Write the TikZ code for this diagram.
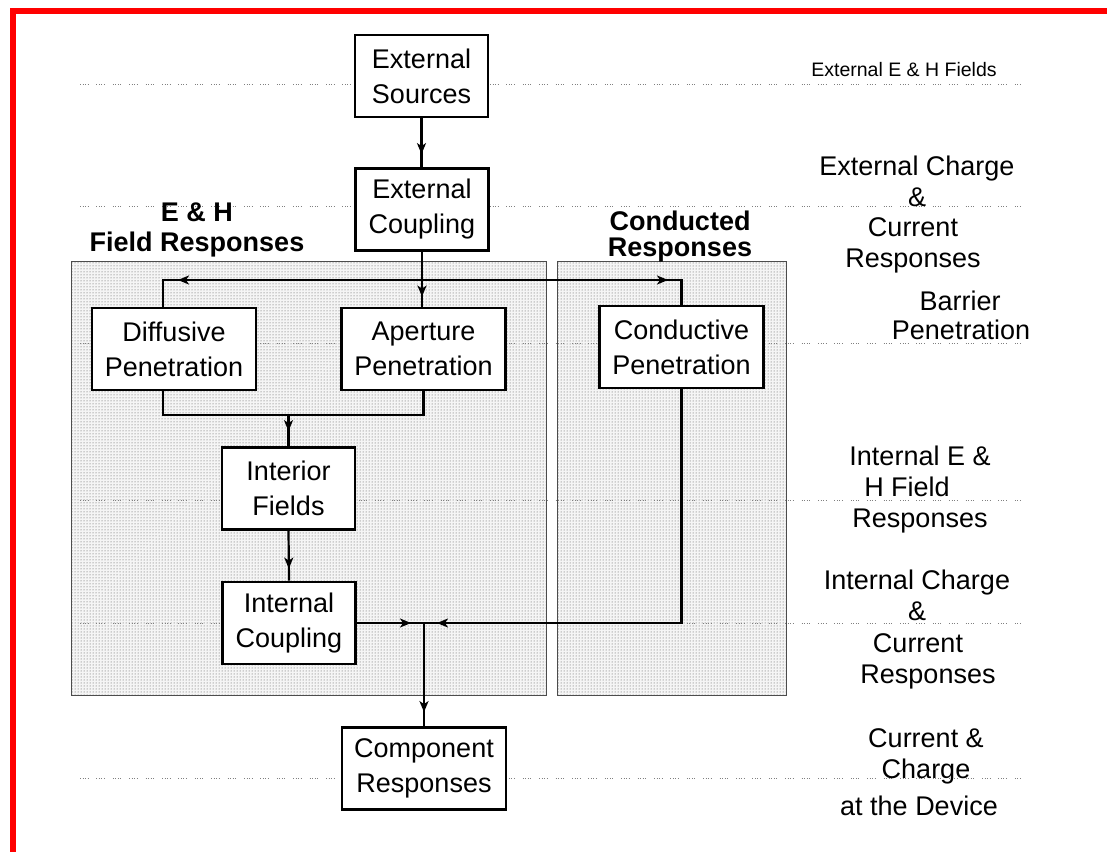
\documentclass[tikz,border=0pt]{standalone}
\usepackage{fontspec}
\setmainfont{Liberation Sans}
\usetikzlibrary{arrows.meta,decorations.markings,patterns,calc}
\begin{document}
\begin{tikzpicture}[x=1pt,y=-1pt,
  box/.style={draw=black, line width=2.8pt, fill=white, minimum height=82pt, inner sep=0pt, align=center, font=\fontsize{27}{35}\selectfont},
  sbox/.style={box, minimum width=133pt},
  wbox/.style={box, minimum width=164pt},
  panel/.style={draw=black!70, line width=0.8pt, fill=black!4, postaction={pattern=dots, pattern color=black!70}},
  guide/.style={draw=black!50, line width=0.9pt, dash pattern=on 0.9pt off 1.6pt on 0.9pt off 1.6pt on 0.9pt off 1.6pt on 0.9pt off 8pt},
  lab/.style={font=\fontsize{27}{31}\selectfont, anchor=base, inner sep=0pt},
  slab/.style={font=\fontsize{19.5}{22}\selectfont, anchor=base, inner sep=0pt},
  plab/.style={font=\bfseries\fontsize{27}{28}\selectfont, anchor=base, inner sep=0pt},
  conn/.style={line width=2.2pt},
  arrowat/.style={postaction={decorate}, decoration={markings, mark=at position #1 with {\arrow{Stealth[length=11pt,width=9pt,inset=3pt]}}}},
]
\fill[white] (0,0) rectangle (1107,851);
\useasboundingbox (0,0) rectangle (1107,851);
\draw[red, line width=6pt] (13,860) -- (13,11) -- (1110,11);

% panels
\path[panel] (71,261) rectangle (546,695);
\path[panel] (557,261) rectangle (786,695);

% guide lines
\foreach \yy in {84,206,343,500,623,778}
  \draw[guide] (80,\yy) -- (1020,\yy);

% panel labels
\node[plab] (ph1) at (197,221) {E \& H};
\node[plab] (ph2) at (197,251) {Field Responses};
\node[plab] (pc1) at (680,230) {Conducted};
\node[plab] (pc2) at (680,256) {Responses};

% boxes
\node[sbox] (src) at (421.5,76) {External\\Sources};
\node[sbox] (cpl) at (422,209.5) {External\\Coupling};
\node[wbox] (dif) at (174,349) {Diffusive\\Penetration};
\node[wbox] (ap) at (423.5,349) {Aperture\\Penetration};
\node[wbox] (cnd) at (681.5,347) {Conductive\\Penetration};
\node[sbox] (int) at (288.5,488.5) {Interior\\Fields};
\node[sbox] (ic) at (289,623) {Internal\\Coupling};
\node[wbox] (cmp) at (424,768.5) {Component\\Responses};

% connectors
\draw[conn, arrowat=-13pt] (src.south) -- (src.south |- cpl.north);
\coordinate (split) at (cpl.south |- 0,280);
\draw[conn, arrowat=-10pt] (cpl.south) -- (cpl.south |- ap.north);
\coordinate (dl) at ([xshift=-11pt]dif.north);
\coordinate (db) at ([xshift=-11pt]dif.south);
\draw[conn, arrowat=244pt] (split) -- (dl |- split) -- (dl);
\draw[conn, arrowat=246pt] (split) -- (cnd.north |- split) -- (cnd.north);
\coordinate (mrg) at (int.north |- 0,415);
\draw[conn] (db) -- (db |- mrg) -- (ap.south |- mrg) -- (ap.south);
\draw[conn, arrowat=-15pt] (mrg) -- (int.north);
\draw[conn, arrowat=-12pt] (int.south) -- (ic.north);
\coordinate (jn) at (cmp.north |- ic.east);
\draw[conn, arrowat=-13pt] (ic.east) -- (jn);
\draw[conn, arrowat=-13pt] (cnd.south) -- (cnd.south |- jn) -- (jn);
\draw[conn, arrowat=-14pt] (jn) -- (cmp.north);

% right column labels
\node[slab] (r0) at (904,76) {External E \& H Fields};
\node[lab] (r1a) at (917,175) {External Charge};
\node[lab] (r1b) at (917,206) {\&};
\node[lab] (r1c) at (913,236) {Current};
\node[lab] (r1d) at (913,267) {Responses};
\node[lab] (r2a) at (960,310) {Barrier};
\node[lab] (r2b) at (961,339) {Penetration};
\node[lab] (r3a) at (920,465) {Internal E \&};
\node[lab] (r3b) at (907,496) {H Field};
\node[lab] (r3c) at (920,527) {Responses};
\node[lab] (r4a) at (917,589) {Internal Charge};
\node[lab] (r4b) at (917,620) {\&};
\node[lab] (r4c) at (918,652) {Current};
\node[lab] (r4d) at (928,683) {Responses};
\node[lab] (r5a) at (926,747) {Current \&};
\node[lab] (r5b) at (926,778) {Charge};
\node[lab] (r5c) at (919,815) {at the Device};
\end{tikzpicture}
\end{document}
